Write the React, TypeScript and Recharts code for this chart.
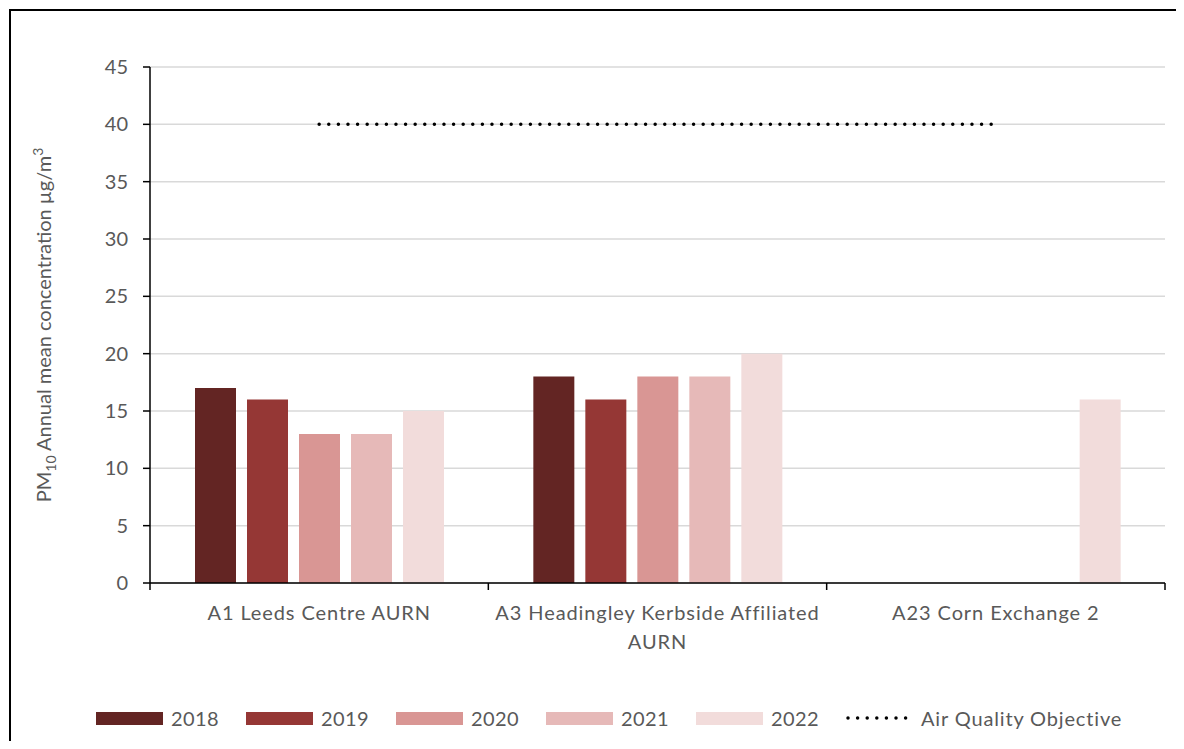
import React from "react";
import { ComposedChart, Bar, Line, XAxis, YAxis, CartesianGrid, Legend } from "recharts";

const sites = ["A1 Leeds Centre AURN", "A3 Headingley Kerbside Affiliated AURN", "A23 Corn Exchange 2"];
const siteLabelLines = [["A1 Leeds Centre AURN"], ["A3 Headingley Kerbside Affiliated", "AURN"], ["A23 Corn Exchange 2"]];
const years = ["2018", "2019", "2020", "2021", "2022"];
const pm2018 = [17, 18, null];
const pm2019 = [16, 16, null];
const pm2020 = [13, 18, null];
const pm2021 = [13, 18, null];
const pm2022 = [15, 20, 16];
const objective = [40, 40, 40];
const yTicks = [0, 5, 10, 15, 20, 25, 30, 35, 40, 45];
const yearColors = ["#632523", "#953735", "#D99694", "#E6B9B8", "#F2DCDB"];

const FONT = "Lato, 'Open Sans', sans-serif";
const TEXT = "#595959";
const DOTS = "0 9.6";

const seriesByYear = [pm2018, pm2019, pm2020, pm2021, pm2022];
const data = sites.map((site, i) => {
  const row: Record<string, string | number | null> = { site, objective: objective[i] };
  years.forEach((y, j) => {
    row["y" + y] = seriesByYear[j][i];
  });
  return row;
});

function SiteTick(props: any) {
  const { x, y, payload, index, visibleTicksCount } = props;
  const half = payload.offset ?? 169;
  const lines = siteLabelLines[index] ?? [String(payload.value)];
  return (
    <g>
      <line x1={x - half} x2={x - half} y1={y} y2={y + 7} stroke="#000" strokeWidth={1.5} />
      {index === visibleTicksCount - 1 && (
        <line x1={x + half} x2={x + half} y1={y} y2={y + 7} stroke="#000" strokeWidth={1.5} />
      )}
      <text x={x} y={y + 37} textAnchor="middle" fill={TEXT} fontSize={20} fontFamily={FONT} letterSpacing={0.9}>
        {lines.map((l, k) => (
          <tspan key={k} x={x} dy={k === 0 ? 0 : 29}>
            {l}
          </tspan>
        ))}
      </text>
    </g>
  );
}

function AxisTitle(props: any) {
  const vb = props.viewBox || { x: 0, y: 56, width: 139, height: 516 };
  const cy = vb.y + vb.height / 2;
  const cx = 40;
  return (
    <text
      x={cx}
      y={cy}
      transform={`rotate(-90, ${cx}, ${cy})`}
      textAnchor="middle"
      fill={TEXT}
      fontSize={20}
      fontFamily={FONT}
    >
      PM
      <tspan dy={5} fontSize={14}>10</tspan>
      <tspan dy={-5}> Annual mean concentration µg/m</tspan>
      <tspan dy={-8} fontSize={14}>3</tspan>
    </text>
  );
}

function ChartLegend() {
  return (
    <div
      style={{
        display: "flex",
        alignItems: "center",
        paddingLeft: 85,
        height: 20,
        lineHeight: "20px",
        fontFamily: FONT,
        fontSize: 20,
        color: TEXT,
      }}
    >
      {years.map((y, i) => (
        <div key={y} style={{ display: "flex", alignItems: "center", marginRight: 27 }}>
          <span style={{ display: "inline-block", width: 67, height: 13, background: yearColors[i], marginRight: 8 }} />
          <span style={{ letterSpacing: 0.4 }}>{y}</span>
        </div>
      ))}
      <svg width={62} height={8} style={{ marginRight: 13 }}>
        <line x1={2} x2={61} y1={4} y2={4} stroke="#000" strokeWidth={3.5} strokeDasharray={DOTS} strokeLinecap="round" />
      </svg>
      <span style={{ letterSpacing: 0.85 }}>Air Quality Objective</span>
    </div>
  );
}

export default function App() {
  return (
    <div style={{ width: 1168, height: 733, paddingTop: 1, paddingLeft: 1, boxSizing: "border-box", overflow: "hidden" }}>
      <div style={{ borderTop: "2px solid #000", borderLeft: "2px solid #000", width: 1167, height: 732 }}>
        <ComposedChart
          width={1165}
          height={730}
          data={data}
          margin={{ top: 56, right: 11, bottom: 13, left: 0 }}
          barGap={11}
        >
          <CartesianGrid vertical={false} stroke="#d9d9d9" strokeWidth={1.5} />
          <XAxis
            dataKey="site"
            interval={0}
            height={125}
            tickSize={0}
            tickMargin={0}
            tickLine={false}
            axisLine={{ stroke: "#000", strokeWidth: 1.5 }}
            tick={<SiteTick />}
          />
          <YAxis
            width={139}
            domain={[0, 45]}
            ticks={yTicks}
            interval={0}
            tickSize={7}
            tickMargin={15}
            axisLine={{ stroke: "#000", strokeWidth: 1.5 }}
            tickLine={{ stroke: "#000", strokeWidth: 1.5 }}
            tick={{ fill: TEXT, fontSize: 20, fontFamily: FONT }}
            label={<AxisTitle />}
          />
          {years.map((y, i) => (
            <Bar key={y} dataKey={"y" + y} name={y} fill={yearColors[i]} barSize={41} isAnimationActive={false} />
          ))}
          <Line
            dataKey="objective"
            name="Air Quality Objective"
            stroke="#000"
            strokeWidth={3.5}
            strokeDasharray={DOTS}
            strokeLinecap="round"
            dot={false}
            activeDot={false}
            isAnimationActive={false}
          />
          <Legend verticalAlign="bottom" align="left" content={<ChartLegend />} wrapperStyle={{ height: 20 }} />
        </ComposedChart>
      </div>
    </div>
  );
}
